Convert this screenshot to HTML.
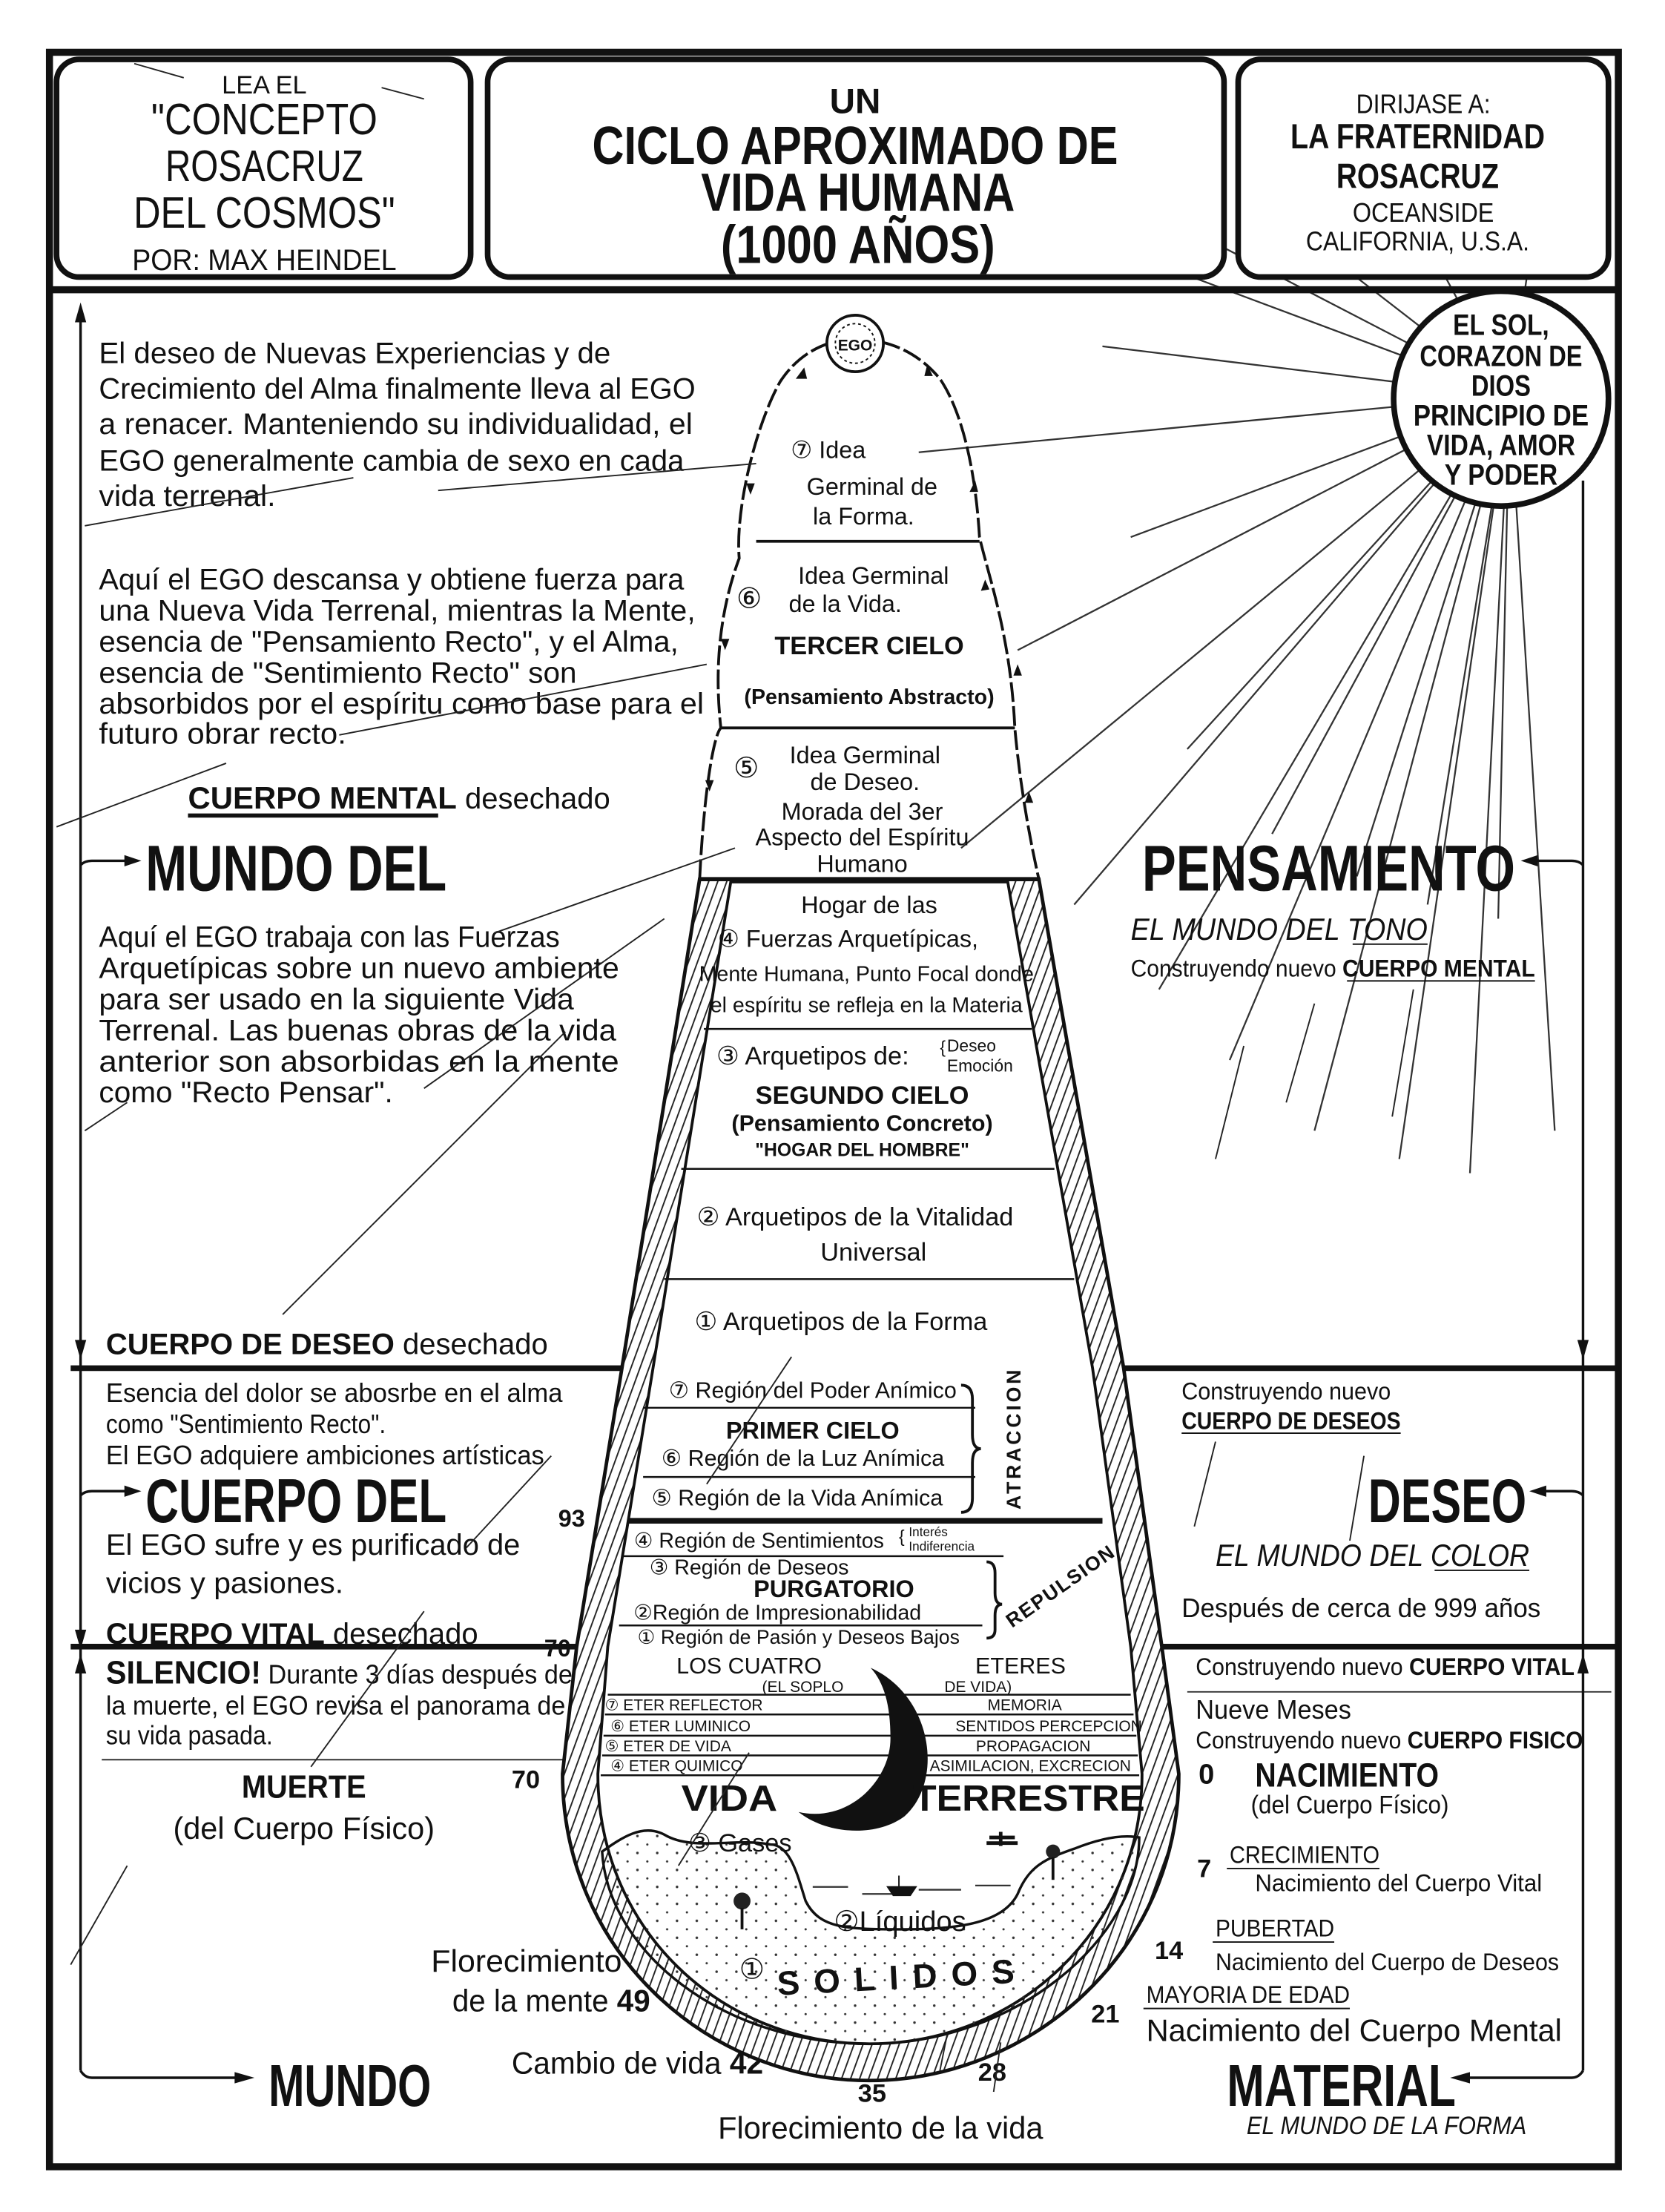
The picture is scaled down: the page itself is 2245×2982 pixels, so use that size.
<!DOCTYPE html>
<html><head><meta charset="utf-8">
<style>
html,body{margin:0;padding:0;background:#fff;}
svg{display:block;}
text{font-family:"Liberation Sans Narrow","Liberation Sans","DejaVu Sans",sans-serif;fill:#111;}
.b{font-weight:bold;}
.i{font-style:italic;}
</style></head>
<body>
<svg width="2245" height="2982" viewBox="0 0 1178 1565" preserveAspectRatio="none" xmlns="http://www.w3.org/2000/svg">
<defs>
<pattern id="hat" width="6" height="6" patternUnits="userSpaceOnUse" patternTransform="rotate(20)">
<rect width="6" height="6" fill="#fff"/>
<path d="M0 0 V6" stroke="#222" stroke-width="2"/>
</pattern>
<pattern id="dots" width="14" height="12" patternUnits="userSpaceOnUse">
<circle cx="3" cy="3" r="0.9" fill="#333"/><circle cx="10" cy="9" r="0.8" fill="#333"/>
</pattern>
</defs>
<rect width="1178" height="1565" fill="#fff"/>

<!-- sun rays -->
<g stroke="#333" stroke-width="1.2">
<line x1="1068" y1="280" x2="560" y2="90"/>
<line x1="1068" y1="280" x2="740" y2="110"/>
<line x1="1068" y1="280" x2="780" y2="245"/>
<line x1="1068" y1="280" x2="650" y2="320"/>
<line x1="1068" y1="280" x2="720" y2="460"/>
<line x1="1068" y1="280" x2="680" y2="600"/>
<line x1="1068" y1="280" x2="760" y2="640"/>
<line x1="1068" y1="280" x2="820" y2="700"/>
<line x1="1068" y1="280" x2="870" y2="750"/>
<line x1="1068" y1="280" x2="930" y2="800"/>
<line x1="1068" y1="280" x2="990" y2="820"/>
<line x1="1068" y1="280" x2="1040" y2="830"/>
<line x1="1068" y1="280" x2="1100" y2="800"/>
<line x1="1068" y1="280" x2="840" y2="530"/>
<line x1="1068" y1="280" x2="900" y2="590"/>
<line x1="1068" y1="280" x2="960" y2="620"/>
<line x1="1068" y1="280" x2="1010" y2="640"/>
<line x1="1068" y1="280" x2="1060" y2="650"/>
<line x1="1068" y1="280" x2="800" y2="380"/>
<line x1="1068" y1="280" x2="960" y2="80"/>
<line x1="1068" y1="280" x2="1100" y2="60"/>
<line x1="1068" y1="280" x2="900" y2="150"/>
</g>

<!-- header boxes -->
<rect x="40" y="42" width="293" height="154" rx="16" fill="#fff" stroke="#111" stroke-width="4"/>
<rect x="345" y="42" width="521" height="154" rx="16" fill="#fff" stroke="#111" stroke-width="4"/>
<rect x="876" y="42" width="262" height="154" rx="16" fill="#fff" stroke="#111" stroke-width="4"/>

<g text-anchor="middle">
<text x="187" y="66" font-size="18">LEA EL</text>
<text x="187" y="95" font-size="31" textLength="160" lengthAdjust="spacingAndGlyphs">"CONCEPTO</text>
<text x="187" y="128" font-size="31" textLength="140" lengthAdjust="spacingAndGlyphs">ROSACRUZ</text>
<text x="187" y="161" font-size="31" textLength="185" lengthAdjust="spacingAndGlyphs">DEL COSMOS"</text>
<text x="187" y="191" font-size="21" textLength="187" lengthAdjust="spacingAndGlyphs">POR: MAX HEINDEL</text>

<text x="605" y="80" font-size="25" class="b">UN</text>
<text x="605" y="116" font-size="38" class="b" textLength="372" lengthAdjust="spacingAndGlyphs">CICLO  APROXIMADO  DE</text>
<text x="607" y="149" font-size="38" class="b" textLength="222" lengthAdjust="spacingAndGlyphs">VIDA  HUMANA</text>
<text x="607" y="186" font-size="38" class="b" textLength="194" lengthAdjust="spacingAndGlyphs">(1000 AÑOS)</text>

<text x="1007" y="80" font-size="19" textLength="95" lengthAdjust="spacingAndGlyphs">DIRIJASE A:</text>
<text x="1003" y="105" font-size="25" class="b" textLength="180" lengthAdjust="spacingAndGlyphs">LA FRATERNIDAD</text>
<text x="1003" y="133" font-size="25" class="b" textLength="115" lengthAdjust="spacingAndGlyphs">ROSACRUZ</text>
<text x="1007" y="157" font-size="19" textLength="100" lengthAdjust="spacingAndGlyphs">OCEANSIDE</text>
<text x="1003" y="177" font-size="19" textLength="158" lengthAdjust="spacingAndGlyphs">CALIFORNIA, U.S.A.</text>
</g>

<!-- outer frame -->
<rect x="35" y="37" width="1110" height="1496" fill="none" stroke="#111" stroke-width="5"/>
<line x1="35" y1="205" x2="1145" y2="205" stroke="#111" stroke-width="5"/>
<line x1="50" y1="968" x2="1145" y2="968" stroke="#111" stroke-width="4"/>
<line x1="50" y1="1165" x2="1145" y2="1165" stroke="#111" stroke-width="4"/>
<line x1="72" y1="1245" x2="405" y2="1245" stroke="#333" stroke-width="1"/>
<line x1="840" y1="1197" x2="1140" y2="1197" stroke="#333" stroke-width="1"/>

<!-- sun -->
<circle cx="1062" cy="282" r="76" fill="#fff" stroke="#111" stroke-width="4"/>
<g text-anchor="middle" class="b" font-size="21">
<text x="1062" y="237" class="b" textLength="68" lengthAdjust="spacingAndGlyphs">EL SOL,</text>
<text x="1062" y="259" class="b" textLength="115" lengthAdjust="spacingAndGlyphs">CORAZON DE</text>
<text x="1062" y="280" class="b" textLength="42" lengthAdjust="spacingAndGlyphs">DIOS</text>
<text x="1062" y="301" class="b" textLength="124" lengthAdjust="spacingAndGlyphs">PRINCIPIO DE</text>
<text x="1062" y="322" class="b" textLength="105" lengthAdjust="spacingAndGlyphs">VIDA, AMOR</text>
<text x="1062" y="343" class="b" textLength="80" lengthAdjust="spacingAndGlyphs">Y PODER</text>
</g>

<!-- left/right side arrows -->
<g stroke="#111" stroke-width="1.8" fill="none">
<line x1="57" y1="222" x2="57" y2="1465"/>
<path d="M57 612 q3 -3 8 -3 H95"/>
<path d="M57 1058 q3 -3 8 -3 H95"/>
<path d="M57 1465 q3 5 8 5 H170"/>
<line x1="1120" y1="340" x2="1120" y2="1465"/>
<path d="M1120 612 q-3 -3 -8 -3 H1080"/>
<path d="M1120 1058 q-3 -3 -8 -3 H1085"/>
<path d="M1120 1465 q-3 5 -8 5 H1030"/>
</g>
<g fill="#111">
<path d="M57 214 l-4 14 h8z"/>
<path d="M57 962 l-4 -14 h8z"/>
<path d="M57 1167 l-4 -14 h8z"/>
<path d="M57 1170 l-4 14 h8z"/>
<path d="M100 609 l-12 -4 v8z"/>
<path d="M100 1055 l-12 -4 v8z"/>
<path d="M180 1470 l-14 -4 v8z"/>
<path d="M1076 609 l12 -4 v8z"/>
<path d="M1082 1055 l12 -4 v8z"/>
<path d="M1026 1470 l14 -4 v8z"/>
<path d="M1120 962 l-4 -14 h8z"/>
<path d="M1120 1170 l-4 14 h8z"/>
</g>

<!-- LEFT TEXT -->
<g font-size="21">
<text x="70" y="257" textLength="362" lengthAdjust="spacingAndGlyphs">El deseo de Nuevas Experiencias y de</text>
<text x="70" y="282" textLength="422" lengthAdjust="spacingAndGlyphs">Crecimiento del Alma finalmente lleva al EGO</text>
<text x="70" y="307" textLength="420" lengthAdjust="spacingAndGlyphs">a renacer. Manteniendo su individualidad, el</text>
<text x="70" y="333" textLength="414" lengthAdjust="spacingAndGlyphs">EGO generalmente cambia de sexo en cada</text>
<text x="70" y="358" textLength="125" lengthAdjust="spacingAndGlyphs">vida terrenal.</text>
<text x="70" y="417" textLength="414" lengthAdjust="spacingAndGlyphs">Aquí el EGO descansa y obtiene fuerza para</text>
<text x="70" y="439" textLength="422" lengthAdjust="spacingAndGlyphs">una Nueva Vida Terrenal, mientras la Mente,</text>
<text x="70" y="461" textLength="410" lengthAdjust="spacingAndGlyphs">esencia de "Pensamiento Recto", y el Alma,</text>
<text x="70" y="483" textLength="338" lengthAdjust="spacingAndGlyphs">esencia de "Sentimiento Recto" son</text>
<text x="70" y="505" textLength="428" lengthAdjust="spacingAndGlyphs">absorbidos por el espíritu como base para el</text>
<text x="70" y="526" textLength="175" lengthAdjust="spacingAndGlyphs">futuro obrar recto.</text>
<text x="133" y="572"><tspan class="b" font-size="22">CUERPO MENTAL</tspan> desechado</text>
<text x="70" y="670" textLength="326" lengthAdjust="spacingAndGlyphs">Aquí el EGO trabaja con las Fuerzas</text>
<text x="70" y="692" textLength="368" lengthAdjust="spacingAndGlyphs">Arquetípicas sobre un nuevo ambiente</text>
<text x="70" y="714" textLength="336" lengthAdjust="spacingAndGlyphs">para ser usado en la siguiente Vida</text>
<text x="70" y="736" textLength="366" lengthAdjust="spacingAndGlyphs">Terrenal. Las buenas obras de la vida</text>
<text x="70" y="758" textLength="368" lengthAdjust="spacingAndGlyphs">anterior son absorbidas en la mente</text>
<text x="70" y="780" textLength="208" lengthAdjust="spacingAndGlyphs">como "Recto Pensar".</text>
<text x="75" y="958"><tspan class="b">CUERPO DE DESEO</tspan> desechado</text>
<text x="75" y="992" font-size="19" textLength="323" lengthAdjust="spacingAndGlyphs">Esencia del dolor se abosrbe en el alma</text>
<text x="75" y="1014" font-size="19" textLength="198" lengthAdjust="spacingAndGlyphs">como "Sentimiento Recto".</text>
<text x="75" y="1036" font-size="19" textLength="310" lengthAdjust="spacingAndGlyphs">El EGO adquiere ambiciones artísticas</text>
<text x="75" y="1100" textLength="293" lengthAdjust="spacingAndGlyphs">El EGO sufre y es purificado de</text>
<text x="75" y="1127" textLength="168" lengthAdjust="spacingAndGlyphs">vicios y pasiones.</text>
<text x="75" y="1163"><tspan class="b">CUERPO VITAL</tspan> desechado</text>
<text x="75" y="1191" font-size="19" textLength="330" lengthAdjust="spacingAndGlyphs"><tspan class="b" font-size="23">SILENCIO!</tspan> Durante 3 días después de</text>
<text x="75" y="1213" font-size="19" textLength="325" lengthAdjust="spacingAndGlyphs">la muerte, el EGO revisa el panorama de</text>
<text x="75" y="1234" font-size="19" textLength="118" lengthAdjust="spacingAndGlyphs">su vida pasada.</text>
</g>
<line x1="133" y1="577" x2="310" y2="577" stroke="#111" stroke-width="3"/>
<text x="103" y="630" font-size="46" class="b" textLength="213" lengthAdjust="spacingAndGlyphs">MUNDO DEL</text>
<text x="103" y="1077" font-size="44" class="b" textLength="213" lengthAdjust="spacingAndGlyphs">CUERPO DEL</text>
<text x="190" y="1490" font-size="42" class="b" textLength="115" lengthAdjust="spacingAndGlyphs">MUNDO</text>
<text x="215" y="1272" font-size="23" class="b" text-anchor="middle" textLength="88" lengthAdjust="spacingAndGlyphs">MUERTE</text>
<text x="215" y="1301" font-size="22" text-anchor="middle" textLength="185" lengthAdjust="spacingAndGlyphs">(del Cuerpo Físico)</text>

<!-- RIGHT TEXT -->
<text x="808" y="630" font-size="46" class="b" textLength="264" lengthAdjust="spacingAndGlyphs">PENSAMIENTO</text>
<text x="800" y="665" font-size="22" class="i" textLength="210" lengthAdjust="spacingAndGlyphs">EL MUNDO DEL TONO</text>
<line x1="957" y1="668" x2="1010" y2="668" stroke="#111"/>
<text x="800" y="691" font-size="17" textLength="286" lengthAdjust="spacingAndGlyphs">Construyendo nuevo <tspan class="b">CUERPO MENTAL</tspan></text>
<line x1="953" y1="694" x2="1086" y2="694" stroke="#111"/>
<text x="836" y="990" font-size="17" textLength="148" lengthAdjust="spacingAndGlyphs">Construyendo nuevo</text>
<text x="836" y="1011" font-size="17" class="b" textLength="155" lengthAdjust="spacingAndGlyphs">CUERPO DE DESEOS</text>
<line x1="836" y1="1014" x2="991" y2="1014" stroke="#111"/>
<text x="968" y="1077" font-size="44" class="b" textLength="112" lengthAdjust="spacingAndGlyphs">DESEO</text>
<text x="860" y="1108" font-size="22" class="i" textLength="222" lengthAdjust="spacingAndGlyphs">EL MUNDO DEL COLOR</text>
<line x1="1015" y1="1111" x2="1082" y2="1111" stroke="#111"/>
<text x="836" y="1144" font-size="19" textLength="254" lengthAdjust="spacingAndGlyphs">Después de cerca de 999 años</text>
<text x="846" y="1185" font-size="17" textLength="268" lengthAdjust="spacingAndGlyphs">Construyendo nuevo <tspan class="b">CUERPO VITAL</tspan></text>
<text x="846" y="1216" font-size="19" textLength="110" lengthAdjust="spacingAndGlyphs">Nueve Meses</text>
<text x="846" y="1237" font-size="17" textLength="274" lengthAdjust="spacingAndGlyphs">Construyendo nuevo <tspan class="b">CUERPO FISICO</tspan></text>
<text x="848" y="1262" font-size="20" class="b">0</text>
<text x="888" y="1264" font-size="24" class="b" textLength="130" lengthAdjust="spacingAndGlyphs">NACIMIENTO</text>
<text x="885" y="1283" font-size="18" textLength="140" lengthAdjust="spacingAndGlyphs">(del Cuerpo Físico)</text>
<text x="870" y="1318" font-size="17" textLength="106" lengthAdjust="spacingAndGlyphs">CRECIMIENTO</text>
<line x1="868" y1="1322" x2="976" y2="1322" stroke="#111"/>
<text x="847" y="1328" font-size="18" class="b">7</text>
<text x="888" y="1338" font-size="17" textLength="203" lengthAdjust="spacingAndGlyphs">Nacimiento del Cuerpo Vital</text>
<text x="860" y="1370" font-size="17" textLength="84" lengthAdjust="spacingAndGlyphs">PUBERTAD</text>
<line x1="858" y1="1374" x2="944" y2="1374" stroke="#111"/>
<text x="817" y="1386" font-size="18" class="b">14</text>
<text x="860" y="1394" font-size="17" textLength="243" lengthAdjust="spacingAndGlyphs">Nacimiento del Cuerpo de Deseos</text>
<text x="811" y="1417" font-size="17" textLength="144" lengthAdjust="spacingAndGlyphs">MAYORIA DE EDAD</text>
<line x1="809" y1="1421" x2="955" y2="1421" stroke="#111"/>
<text x="772" y="1431" font-size="18" class="b">21</text>
<text x="811" y="1444" font-size="22" textLength="294" lengthAdjust="spacingAndGlyphs">Nacimiento del Cuerpo Mental</text>
<text x="868" y="1490" font-size="42" class="b" textLength="162" lengthAdjust="spacingAndGlyphs">MATERIAL</text>
<text x="882" y="1510" font-size="18" class="i" textLength="198" lengthAdjust="spacingAndGlyphs">EL MUNDO DE LA FORMA</text>

<!-- bottom labels -->
<text x="305" y="1395" font-size="22" textLength="135" lengthAdjust="spacingAndGlyphs">Florecimiento</text>
<text x="320" y="1423" font-size="22" textLength="140" lengthAdjust="spacingAndGlyphs">de la mente <tspan class="b">49</tspan></text>
<text x="362" y="1467" font-size="22" textLength="178" lengthAdjust="spacingAndGlyphs">Cambio de vida <tspan class="b">42</tspan></text>
<text x="617" y="1487" font-size="18" class="b" text-anchor="middle">35</text>
<text x="692" y="1472" font-size="18" class="b">28</text>
<text x="508" y="1513" font-size="22" textLength="230" lengthAdjust="spacingAndGlyphs">Florecimiento de la vida</text>
<text x="395" y="1080" font-size="17" class="b">93</text>
<text x="385" y="1172" font-size="17" class="b">70</text>
<text x="362" y="1265" font-size="18" class="b">70</text>

<!-- CONE: lower hatched band -->
<path d="M495 622 L440 968 L408 1165 L398 1255 C398 1380 500 1472 615 1472 C730 1472 834 1380 834 1255 L822 1165 L795 968 L735 622 Z" fill="url(#hat)" stroke="#111" stroke-width="2.5"/>
<path d="M517 624 L462 968 L430 1165 L423 1255 C423 1365 510 1446 615 1446 C720 1446 808 1365 808 1255 L800 1165 L773 968 L713 624 Z" fill="#fff" stroke="#111" stroke-width="2"/>
<line x1="495" y1="622" x2="735" y2="622" stroke="#111" stroke-width="3"/>

<!-- earth -->
<path d="M426 1310 C440 1300 455 1290 470 1298 C490 1310 520 1300 545 1305 C560 1305 565 1330 570 1345 C580 1365 600 1365 640 1365 C680 1365 710 1360 720 1340 C728 1320 740 1315 760 1308 C780 1300 795 1298 806 1300 C806 1370 720 1446 615 1446 C510 1446 430 1380 426 1310 Z" fill="url(#dots)" stroke="#111" stroke-width="1.8"/>
<path d="M575 1335 H600 M610 1340 H635 M650 1337 H680 M690 1334 H715" stroke="#333" stroke-width="1.2"/>
<path d="M628 1335 h20 l-4 6 h-12z M636 1327 v8" fill="#111" stroke="#111"/>
<path d="M700 1300 h18 M708 1296 v10 M698 1304 h22" stroke="#111" stroke-width="2.5"/>
<circle cx="525" cy="1345" r="6" fill="#222"/><line x1="525" y1="1350" x2="525" y2="1365" stroke="#111" stroke-width="2"/>
<circle cx="745" cy="1310" r="5" fill="#222"/><line x1="745" y1="1314" x2="745" y2="1330" stroke="#111" stroke-width="2"/>
<text x="487" y="1310" font-size="18">③ Gases</text>
<text x="590" y="1366" font-size="20">②Líquidos</text>
<text x="523" y="1400" font-size="20">①</text>
<text x="550" y="1408" font-size="24" class="b" letter-spacing="10" transform="rotate(-3 620 1405)">SOLIDOS</text>

<!-- Upper dome (wavy outline) -->
<path d="M495 622 C498 560 505 520 510 515 C505 470 510 430 523 395 C520 360 535 300 552 270 C565 250 585 240 605 240 C630 240 650 250 665 268 C680 290 690 330 693 380 C700 410 715 450 718 515 C722 560 730 600 735 622" fill="none" stroke="#111" stroke-width="2" stroke-dasharray="14 3"/>
<g fill="#111">
<path d="M563 268 l6 -8 l2 8z"/><path d="M660 266 l-4 -8 l-2 8z"/>
<path d="M690 340 l-4 8 l6 0z"/><path d="M697 410 l-3 8 l6 -1z"/>
<path d="M720 470 l-3 8 l6 0z"/><path d="M728 560 l-3 8 l6 0z"/>
<path d="M531 350 l-3 -8 l6 0z"/><path d="M513 460 l-3 -8 l6 0z"/>
<path d="M502 560 l-3 -8 l6 0z"/>
</g>
<circle cx="605" cy="243" r="20" fill="#fff" stroke="#111" stroke-width="2"/>
<circle cx="605" cy="243" r="14" fill="none" stroke="#111" stroke-width="1" stroke-dasharray="2 2"/>
<text x="605" y="248" font-size="11" class="b" text-anchor="middle">EGO</text>

<g stroke="#111" stroke-width="2">
<line x1="535" y1="383" x2="693" y2="383"/>
<line x1="510" y1="515" x2="718" y2="515"/>
</g>
<g stroke="#111" stroke-width="1.3">
<line x1="498" y1="728" x2="730" y2="728"/>
<line x1="482" y1="827" x2="746" y2="827"/>
<line x1="470" y1="905" x2="760" y2="905"/>
<line x1="455" y1="996" x2="690" y2="996"/>
<line x1="455" y1="1045" x2="690" y2="1045"/>
<line x1="440" y1="1101" x2="710" y2="1101"/>
<line x1="438" y1="1150" x2="695" y2="1150"/>
<line x1="430" y1="1199" x2="800" y2="1199"/>
<line x1="428" y1="1213" x2="802" y2="1213"/>
<line x1="427" y1="1228" x2="804" y2="1228"/>
<line x1="426" y1="1242" x2="805" y2="1242"/>
<line x1="425" y1="1256" x2="806" y2="1256"/>
</g>
<line x1="445" y1="1076" x2="780" y2="1076" stroke="#111" stroke-width="4"/>

<!-- cone texts -->
<g font-size="17" text-anchor="middle">
<text x="586" y="324">⑦ Idea</text>
<text x="617" y="350">Germinal de</text>
<text x="611" y="371">la Forma.</text>
<text x="618" y="413">Idea  Germinal</text>
<text x="530" y="430" font-size="20">⑥</text>
<text x="598" y="433">de la Vida.</text>
<text x="615" y="463" class="b" font-size="18">TERCER CIELO</text>
<text x="615" y="498" class="b" font-size="15">(Pensamiento Abstracto)</text>
<text x="528" y="550" font-size="20">⑤</text>
<text x="612" y="540">Idea Germinal</text>
<text x="612" y="559">de Deseo.</text>
<text x="610" y="580">Morada del 3er</text>
<text x="610" y="598">Aspecto del Espíritu</text>
<text x="610" y="617">Humano</text>
<text x="615" y="646">Hogar  de las</text>
<text x="600" y="670">④ Fuerzas Arquetípicas,</text>
<text x="613" y="694" font-size="15">Mente Humana, Punto Focal donde</text>
<text x="613" y="716" font-size="15">el espíritu se refleja en la Materia</text>
<text x="575" y="753" font-size="18">③  Arquetipos de:</text>
<text x="610" y="781" class="b" font-size="18">SEGUNDO CIELO</text>
<text x="610" y="800" class="b" font-size="16">(Pensamiento Concreto)</text>
<text x="610" y="818" class="b" font-size="13">"HOGAR DEL HOMBRE"</text>
<text x="605" y="867" font-size="18">②  Arquetipos de la Vitalidad</text>
<text x="618" y="892" font-size="18">Universal</text>
<text x="595" y="941" font-size="18">①     Arquetipos de la Forma</text>
<text x="575" y="989" font-size="16">⑦ Región del Poder Anímico</text>
<text x="575" y="1018" class="b" font-size="17">PRIMER CIELO</text>
<text x="568" y="1037" font-size="16">⑥ Región de la Luz Anímica</text>
<text x="564" y="1065" font-size="16">⑤ Región de la Vida Anímica</text>
<text x="537" y="1095" font-size="15">④ Región de Sentimientos</text>
<text x="530" y="1114" font-size="15">③ Región de Deseos</text>
<text x="590" y="1130" class="b" font-size="17">PURGATORIO</text>
<text x="550" y="1146" font-size="15">②Región de Impresionabilidad</text>
<text x="565" y="1163" font-size="14">① Región de Pasión y Deseos Bajos</text>
<text x="530" y="1184" font-size="16">LOS CUATRO</text>
<text x="568" y="1197" font-size="11">(EL SOPLO</text>
<text x="722" y="1184" font-size="16">ETERES</text>
<text x="692" y="1197" font-size="11">DE VIDA)</text>
<text x="725" y="1210" font-size="11">MEMORIA</text>
<text x="742" y="1225" font-size="11">SENTIDOS PERCEPCION</text>
<text x="731" y="1239" font-size="11">PROPAGACION</text>
<text x="729" y="1253" font-size="11">ASIMILACION, EXCRECION</text>
</g>
<g font-size="11">
<text x="428" y="1210">⑦  ETER REFLECTOR</text>
<text x="432" y="1225">⑥  ETER LUMINICO</text>
<text x="428" y="1239">⑤  ETER DE VIDA</text>
<text x="432" y="1253">④  ETER QUIMICO</text>
</g>
<text x="665" y="745" font-size="12">{</text>
<text x="670" y="744" font-size="12">Deseo</text>
<text x="670" y="758" font-size="12">Emoción</text>
<text x="636" y="1091" font-size="12">{</text>
<text x="643" y="1087" font-size="9">Interés</text>
<text x="643" y="1097" font-size="9">Indiferencia</text>

<!-- braces -->
<path d="M680 980 q8 0 8 10 v25 q0 10 6 10 q-6 0 -6 10 v25 q0 10 -8 10" fill="none" stroke="#111" stroke-width="2"/>
<path d="M698 1105 q6 0 6 8 v14 q0 8 5 8 q-5 0 -5 8 v10 q0 6 -6 6" fill="none" stroke="#111" stroke-width="2"/>
<text transform="translate(722 1068) rotate(-90)" font-size="14" class="b" letter-spacing="2">ATRACCION</text>
<text transform="translate(716 1152) rotate(-35)" font-size="14" class="b" letter-spacing="1">REPULSION</text>

<!-- moon -->
<path d="M616 1180 C660 1200 668 1260 640 1285 C620 1300 585 1298 565 1282 C600 1290 630 1260 630 1230 C630 1205 625 1190 616 1180 Z" fill="#111"/>
<text x="482" y="1281" font-size="26" class="b" textLength="68" lengthAdjust="spacingAndGlyphs">VIDA</text>
<text x="646" y="1281" font-size="26" class="b" textLength="164" lengthAdjust="spacingAndGlyphs">TERRESTRE</text>

<!-- stray connector lines -->
<g stroke="#222" stroke-width="1">
<line x1="60" y1="372" x2="250" y2="338"/>
<line x1="310" y1="347" x2="535" y2="328"/>
<line x1="40" y1="585" x2="160" y2="540"/>
<line x1="240" y1="520" x2="500" y2="470"/>
<line x1="350" y1="660" x2="520" y2="600"/>
<line x1="300" y1="770" x2="470" y2="650"/>
<line x1="200" y1="930" x2="400" y2="730"/>
<line x1="60" y1="800" x2="90" y2="780"/>
<line x1="500" y1="1050" x2="560" y2="960"/>
<line x1="330" y1="1095" x2="390" y2="1030"/>
<line x1="220" y1="1250" x2="300" y2="1140"/>
<line x1="50" y1="1390" x2="90" y2="1320"/>
<line x1="480" y1="1320" x2="530" y2="1240"/>
<line x1="880" y1="740" x2="860" y2="820"/>
<line x1="930" y1="710" x2="910" y2="780"/>
<line x1="1000" y1="700" x2="985" y2="790"/>
<line x1="860" y1="1020" x2="845" y2="1080"/>
<line x1="965" y1="1030" x2="955" y2="1090"/>
<line x1="665" y1="1465" x2="670" y2="1440"/>
<line x1="703" y1="1480" x2="708" y2="1445"/>
<line x1="300" y1="70" x2="270" y2="62"/>
<line x1="95" y1="45" x2="130" y2="55"/>
</g>
</svg>
</body></html>
